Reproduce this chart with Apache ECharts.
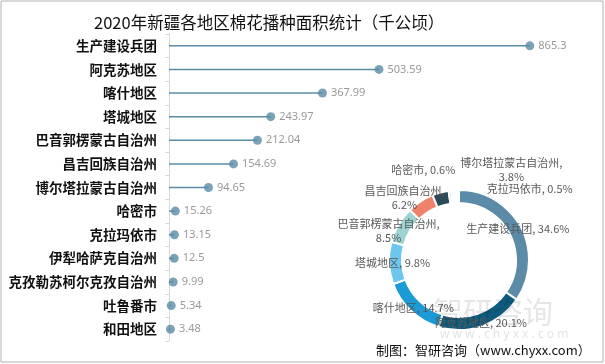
<!DOCTYPE html>
<html>
<head>
<meta charset="utf-8">
<script src="https://cdn.jsdelivr.net/npm/echarts@6/dist/echarts.min.js"></script>
<style>
html,body{margin:0;padding:0;background:#fff;}
#main{width:605px;height:364px;}
</style>
</head>
<body>
<div id="main"></div>
<script>
var categories = ['生产建设兵团','阿克苏地区','喀什地区','塔城地区','巴音郭楞蒙古自治州','昌吉回族自治州','博尔塔拉蒙古自治州','哈密市','克拉玛依市','伊犁哈萨克自治州','克孜勒苏柯尔克孜自治州','吐鲁番市','和田地区'];
var values = [865.3,503.59,367.99,243.97,212.04,154.69,94.65,15.26,13.15,12.5,9.99,5.34,3.48];
var pieColors = ['#5b8ba6','#0f5b7e','#1b9ad6','#6cc6ee','#9dd3d1','#f0826b','#2d4a5b','#b8cfdc','#d6e4ec','#8fb3c8','#c5d5de','#e2ecf1','#a9c6d6'];
var pieLabelShown = ['生产建设兵团','阿克苏地区','喀什地区','塔城地区','巴音郭楞蒙古自治州','昌吉回族自治州','博尔塔拉蒙古自治州','哈密市','克拉玛依市'];
var pieLabelShift = {'巴音郭楞蒙古自治州':[-13,4],'昌吉回族自治州':[-18,-7],'博尔塔拉蒙古自治州':[70,-26],'哈密市':[-27,-24],'克拉玛依市':[77,-5]};

var chart = echarts.init(document.getElementById('main'));
var pieData = categories.map(function(c,i){
  return {name:c, value:values[i], itemStyle:{color:pieColors[i]}, label:{show: pieLabelShown.indexOf(c) >= 0}};
});
var option = {
  animation:false,
  backgroundColor:'#fff',
  title:{
    text:'2020年新疆各地区棉花播种面积统计（千公顷）',
    left:89, top:9,
    textStyle:{fontFamily:'Noto Sans CJK SC', fontSize:16.5, fontWeight:'normal', color:'#111'}
  },
  grid:{left:169, right:19, top:34, bottom:23},
  xAxis:{type:'value', min:0, max:1000, show:false},
  yAxis:{
    type:'category', inverse:true, data:categories,
    axisLine:{show:true, lineStyle:{color:'#d9d9d9'}},
    axisTick:{show:true, length:4, lineStyle:{color:'#d9d9d9'}},
    axisLabel:{margin:12, color:'#111', fontSize:13.5, fontWeight:'bold', fontFamily:'Noto Sans CJK SC'}
  },
  series:[
    {
      type:'bar', data:values, barWidth:1.5, silent:true,
      itemStyle:{color:'#5b8ba6'}
    },
    {
      type:'scatter', data:values, symbolSize:9,
      itemStyle:{color:'#5b8ba6'},
      label:{show:true, position:'right', distance:4, color:'#7f7f7f', fontSize:11, fontFamily:'Noto Sans'}
    },
    {
      type:'pie', center:[459,260], radius:[57,70], startAngle:90, clockwise:true,
      percentPrecision:1, avoidLabelOverlap:false,
      itemStyle:{borderColor:'#fff', borderWidth:2},
      label:{
        position:'inside', color:'#595959', fontSize:11, fontFamily:'Noto Sans CJK SC', lineHeight:14,
        formatter:function(p){ return p.name.length > 6 ? p.name + ',\n' + p.percent + '%' : p.name + ', ' + p.percent + '%'; }
      },
      labelLine:{show:false},
      labelLayout:function(p){
        var s = pieLabelShift[categories[p.dataIndex]];
        if (p.seriesIndex === 2 && s) return {dx:s[0], dy:s[1]};
        return {};
      },
      data:pieData
    }
  ],
  graphic:[
    {type:'rect', shape:{x:1,y:1,width:602,height:361}, style:{fill:'none', stroke:'#b0b0b0', lineWidth:1}, silent:true},
    {type:'text', left:433, top:297, z:100, style:{text:'智研咨询', fontSize:30, fill:'rgba(0,0,0,0.10)', fontFamily:'Noto Sans CJK SC'}},
    {type:'text', left:440, top:329, z:100, style:{text:'w w w . c h y x x . c o m', fontSize:12, fill:'rgba(0,0,0,0.12)', fontFamily:'Noto Sans'}},
    {type:'text', left:376, top:344, z:101, style:{text:'制图：智研咨询（www.chyxx.com）', fontSize:13, fill:'#111', fontFamily:'Noto Sans CJK SC'}}
  ]
};
chart.setOption(option);
</script>
</body>
</html>
